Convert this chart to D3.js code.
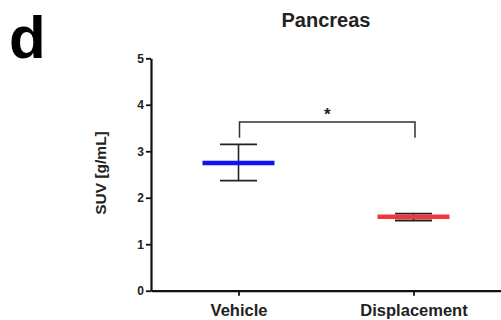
<!DOCTYPE html>
<html><head><meta charset="utf-8">
<script src="https://cdn.jsdelivr.net/npm/d3@7"></script>
<style>body{margin:0;background:#fff}svg{display:block}</style>
</head><body>
<script>
const categories = ["Vehicle", "Displacement"];
const means = [2.75, 1.59];
const upper = [3.15, 1.66];
const lower = [2.37, 1.51];
const colors = ["#0b16f2", "#f2363a"];
const yTicks = [0, 1, 2, 3, 4, 5];
const title = "Pancreas";
const yLabel = "SUV [g/mL]";
const panel = "d";
const sigLabel = "*";

const W = 501, H = 320;
const svg = d3.select("body").append("svg").attr("width", W).attr("height", H);
const mLeft = 151, mRight = 501, mTop = 58.3, mBottom = 290.7;
const x = d3.scalePoint().domain(categories).range([mLeft, mRight]).padding(0.5);
const y = d3.scaleLinear().domain([0, 5]).range([mBottom, mTop]);
const FONT = "Liberation Sans, Arial, sans-serif";

// axes
const yAxis = svg.append("g").attr("transform", `translate(${mLeft},0)`)
  .call(d3.axisLeft(y).tickValues(yTicks).tickFormat(d3.format("d")).tickSize(5).tickSizeOuter(0).tickPadding(2));
yAxis.select(".domain").attr("stroke-width", 2.2).attr("stroke", "#111");
yAxis.selectAll(".tick line").attr("stroke-width", 1.8).attr("stroke", "#111");
yAxis.selectAll(".tick text").attr("font-family", FONT)
  .attr("font-size", 12).attr("font-weight", "bold").attr("fill", "#222");

const xAxis = svg.append("g").attr("transform", `translate(0,${mBottom})`)
  .call(d3.axisBottom(x).tickSize(5).tickSizeOuter(0).tickPadding(9));
xAxis.select(".domain").attr("stroke-width", 2.2).attr("stroke", "#111");
xAxis.selectAll(".tick line").attr("stroke-width", 1.8).attr("stroke", "#111");
xAxis.selectAll(".tick text").attr("font-family", FONT)
  .attr("font-size", 16.5).attr("font-weight", "bold").attr("fill", "#222");

// error bars
const capW = 37, meanW = 72;
categories.forEach((c, i) => {
  const cx = x(c);
  const g = svg.append("g");
  g.append("line").attr("x1", cx).attr("x2", cx).attr("y1", y(upper[i])).attr("y2", y(lower[i]))
    .attr("stroke", "#222").attr("stroke-width", 1.6);
  [upper[i], lower[i]].forEach(v => {
    g.append("line").attr("x1", cx - capW / 2).attr("x2", cx + capW / 2)
      .attr("y1", y(v)).attr("y2", y(v)).attr("stroke", "#222").attr("stroke-width", 1.8);
  });
  g.append("line").attr("x1", cx - meanW / 2).attr("x2", cx + meanW / 2)
    .attr("y1", y(means[i])).attr("y2", y(means[i]))
    .attr("stroke", colors[i]).attr("stroke-width", 4.5);
});

// significance bracket
const bTop = y(3.63), bBot = y(3.29);
const x0 = x(categories[0]) + 1, x1 = x(categories[1]) + 1.5;
svg.append("path")
  .attr("d", `M${x0},${bBot}V${bTop}H${x1}V${bBot}`)
  .attr("fill", "none").attr("stroke", "#333").attr("stroke-width", 1.5);
svg.append("text").attr("x", (x0 + x1) / 2).attr("y", bTop - 2)
  .attr("text-anchor", "middle").attr("font-family", FONT)
  .attr("font-size", 17).attr("font-weight", "bold").attr("fill", "#222").text(sigLabel);

// title
svg.append("text").attr("x", 326).attr("y", 27).attr("text-anchor", "middle")
  .attr("font-family", FONT).attr("font-size", 20)
  .attr("font-weight", "bold").attr("fill", "#222").text(title);

// y label
svg.append("text").attr("transform", "translate(106,173) rotate(-90)").attr("text-anchor", "middle")
  .attr("font-family", FONT).attr("font-size", 15.5)
  .attr("font-weight", "bold").attr("fill", "#222").text(yLabel);

// panel letter
svg.append("text").attr("x", 9).attr("y", 58).attr("font-family", FONT)
  .attr("font-size", 60).attr("font-weight", "bold").attr("fill", "#000").text(panel);
</script>
</body></html>
